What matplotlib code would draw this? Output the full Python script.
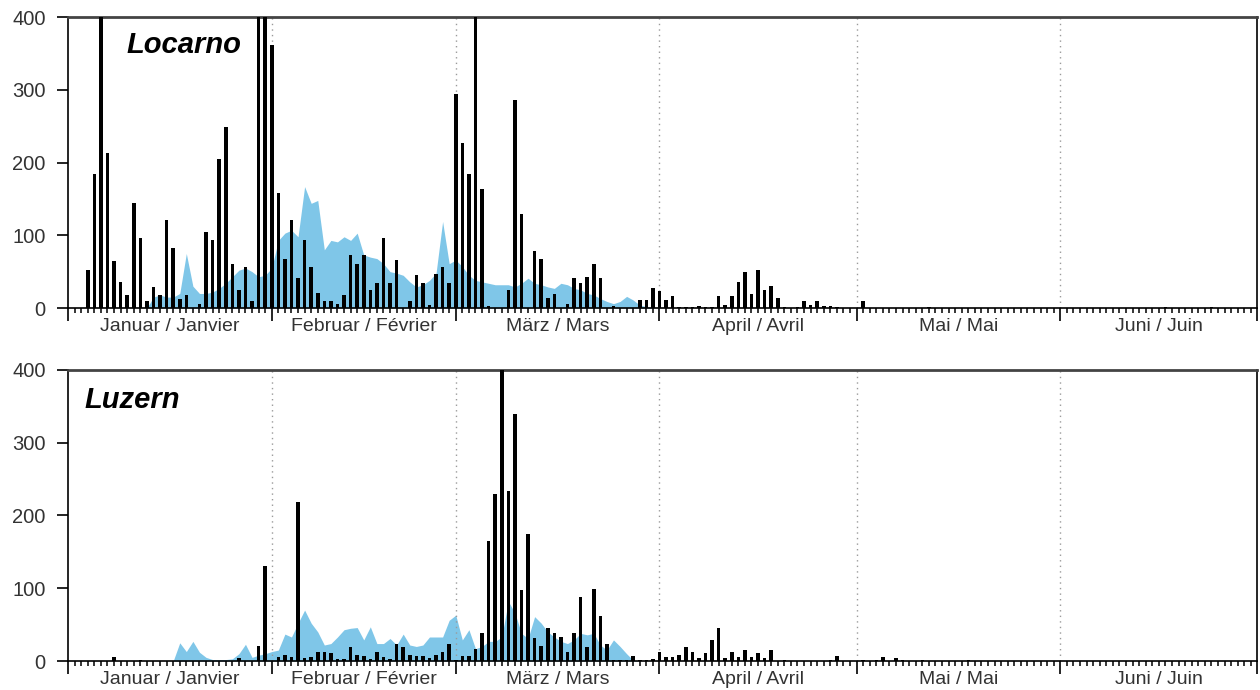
import numpy as np
import matplotlib
matplotlib.use("Agg")
import matplotlib.pyplot as plt
from matplotlib.ticker import FixedLocator, NullFormatter

plt.rcParams['font.family'] = ['Liberation Sans', 'DejaVu Sans']

# day index 0 = 1 January, 181 days up to 30 June
n_days = 181
month_starts = [0, 31, 59, 90, 120, 151, 181]
month_labels = ["Januar / Janvier", "Februar / Février", "März / Mars",
                "April / Avril", "Mai / Mai", "Juni / Juin"]

# Locarno daily counts (day, value); values > 400 are cut by the axis
loc_days = [3, 4, 5, 6, 7, 8, 9, 10, 11, 12, 13, 14, 15, 16, 17, 18, 20, 21, 22, 23,
            24, 25, 26, 27, 28, 29, 30, 31, 32, 33, 34, 35, 36, 37, 38, 39, 40, 41, 42,
            43, 44, 45, 46, 47, 48, 49, 50, 52, 53, 54, 55, 56, 57, 58, 59, 60, 61, 62,
            63, 64, 67, 68, 69, 71, 72, 73, 74, 76, 77, 78, 79, 80, 81, 83, 87, 88, 89,
            90, 91, 92, 93, 94, 95, 96, 97, 98, 99, 100, 101, 102, 103, 104, 105, 106,
            107, 108, 109, 111, 112, 113, 114, 115, 116, 117, 121, 131, 167, 174]
loc_counts = [52, 185, 520, 213, 65, 36, 18, 145, 97, 9, 29, 18, 121, 82, 13, 18, 5, 105, 93, 205,
              249, 61, 25, 57, 9, 520, 480, 362, 158, 68, 121, 41, 93, 57, 20, 9, 9, 5, 18,
              73, 61, 73, 25, 34, 97, 34, 66, 9, 45, 34, 4, 47, 57, 34, 295, 227, 184, 450,
              164, 3, 25, 286, 129, 79, 67, 14, 19, 5, 41, 34, 43, 61, 41, 3, 11, 11, 28,
              24, 11, 16, 2, 1, 2, 3, 2, 2, 16, 4, 16, 36, 49, 19, 52, 25,
              30, 14, 1, 2, 9, 4, 9, 3, 3, 2, 9, 2, 1, 2]

# Locarno multi-year mean (blue area)
loc_avg_days = list(range(12, 90))
loc_avg = [0, 15, 18, 15, 15, 20, 75, 30, 20, 20, 22, 27, 34, 43, 52, 55, 50, 43, 45,
           55, 93, 103, 107, 98, 167, 144, 148, 80, 93, 91, 98, 93, 103, 73, 70, 68, 61,
           50, 48, 45, 36, 29, 32, 38, 48, 119, 61, 66, 57, 45, 38, 36, 34, 32, 32, 32,
           29, 34, 41, 34, 32, 29, 27, 34, 32, 27, 25, 20, 18, 13, 9, 6, 9, 16, 11, 4, 2, 0]

# Luzern daily counts
luz_days = [7, 11, 26, 29, 30, 32, 33, 34, 35, 36, 37, 38, 39, 40, 41, 42, 43, 44, 45, 46,
            47, 48, 49, 50, 51, 52, 53, 54, 55, 56, 57, 58, 59, 60, 61, 62, 63, 64, 65,
            66, 67, 68, 69, 70, 71, 72, 73, 74, 75, 76, 77, 78, 79, 80, 81, 82, 83, 84,
            85, 86, 87, 88, 89, 90, 91, 92, 93, 94, 95, 96, 97, 98, 99, 100, 101, 102,
            103, 104, 105, 106, 107, 109, 116, 117, 121, 123, 124, 126, 127, 130, 137]
luz_counts = [5, 2, 4, 20, 130, 5, 8, 5, 218, 4, 5, 13, 13, 11, 3, 3, 19, 8, 7, 3,
              13, 5, 3, 24, 19, 8, 7, 7, 4, 8, 13, 24, 1, 7, 7, 17, 39, 165, 229,
              480, 234, 340, 98, 174, 31, 20, 46, 39, 33, 13, 39, 88, 19, 99, 62, 24, 1, 1,
              1, 7, 1, 1, 3, 13, 5, 5, 8, 19, 13, 4, 11, 29, 46, 4, 13, 6,
              15, 5, 11, 4, 15, 1, 2, 7, 1, 2, 6, 4, 2, 1, 2]

# Luzern multi-year mean
luz_avg_days = list(range(16, 88))
luz_avg = [0, 25, 13, 27, 12, 5, 2, 2, 2, 3, 10, 23, 5, 8, 10, 13, 15, 37, 33, 52,
           70, 52, 40, 22, 24, 33, 43, 45, 46, 29, 47, 24, 24, 31, 22, 37, 22, 20, 22,
           33, 33, 33, 56, 63, 29, 43, 17, 20, 27, 27, 33, 82, 66, 38, 31, 61, 52, 40,
           33, 27, 24, 29, 38, 36, 38, 22, 15, 29, 20, 10, 1, 0]

stations = [("Locarno", loc_days, loc_counts, loc_avg_days, loc_avg),
            ("Luzern", luz_days, luz_counts, luz_avg_days, luz_avg)]

fig = plt.figure(figsize=(12.6, 6.9), dpi=100)
boxes = [[0.054, 0.5536, 0.944, 0.4214], [0.054, 0.042, 0.944, 0.4218]]
text_pos = [(0.049, 0.904), (0.0135, 0.897)]

for (name, days, counts, avg_days, avg), box, tpos in zip(stations, boxes, text_pos):
    ax = fig.add_axes(box)
    ax.fill_between(avg_days, avg, 0, color='#7fc6e8', lw=0, zorder=1)
    ax.bar(days, counts, width=0.55, color='black', zorder=3)

    for m in month_starts[1:-1]:
        ax.axvline(m, color='#9a9a9a', ls=(0, (1, 3)), lw=1, zorder=2)

    ax.set_xlim(0, n_days)
    ax.set_ylim(0, 400)
    ax.set_yticks([0, 100, 200, 300, 400])
    ax.xaxis.set_major_locator(FixedLocator(month_starts))
    ax.xaxis.set_minor_locator(FixedLocator(np.arange(n_days)))
    ax.xaxis.set_major_formatter(NullFormatter())
    ax.tick_params(axis='x', which='major', direction='out', length=9, width=1.2, color='black')
    ax.tick_params(axis='x', which='minor', direction='out', length=3.5, width=1.1, color='black')
    ax.tick_params(axis='y', direction='out', length=8, width=1.2, labelsize=14.5,
                   labelcolor='#333333', pad=8)

    for i, lab in enumerate(month_labels):
        mid = (month_starts[i] + month_starts[i + 1]) / 2
        ax.text(mid, -0.065, lab, transform=ax.get_xaxis_transform(), ha='center',
                va='center', fontsize=14, color='#333333')

    ax.text(tpos[0], tpos[1], name, transform=ax.transAxes, fontsize=21,
            fontweight='bold', fontstyle='italic', ha='left', va='center')

    for s in ['left', 'bottom', 'right']:
        ax.spines[s].set_linewidth(1.2)
        ax.spines[s].set_color('black')
    ax.spines['top'].set_linewidth(2)
    ax.spines['top'].set_color('#444444')

fig.savefig('out.png', dpi=100)
